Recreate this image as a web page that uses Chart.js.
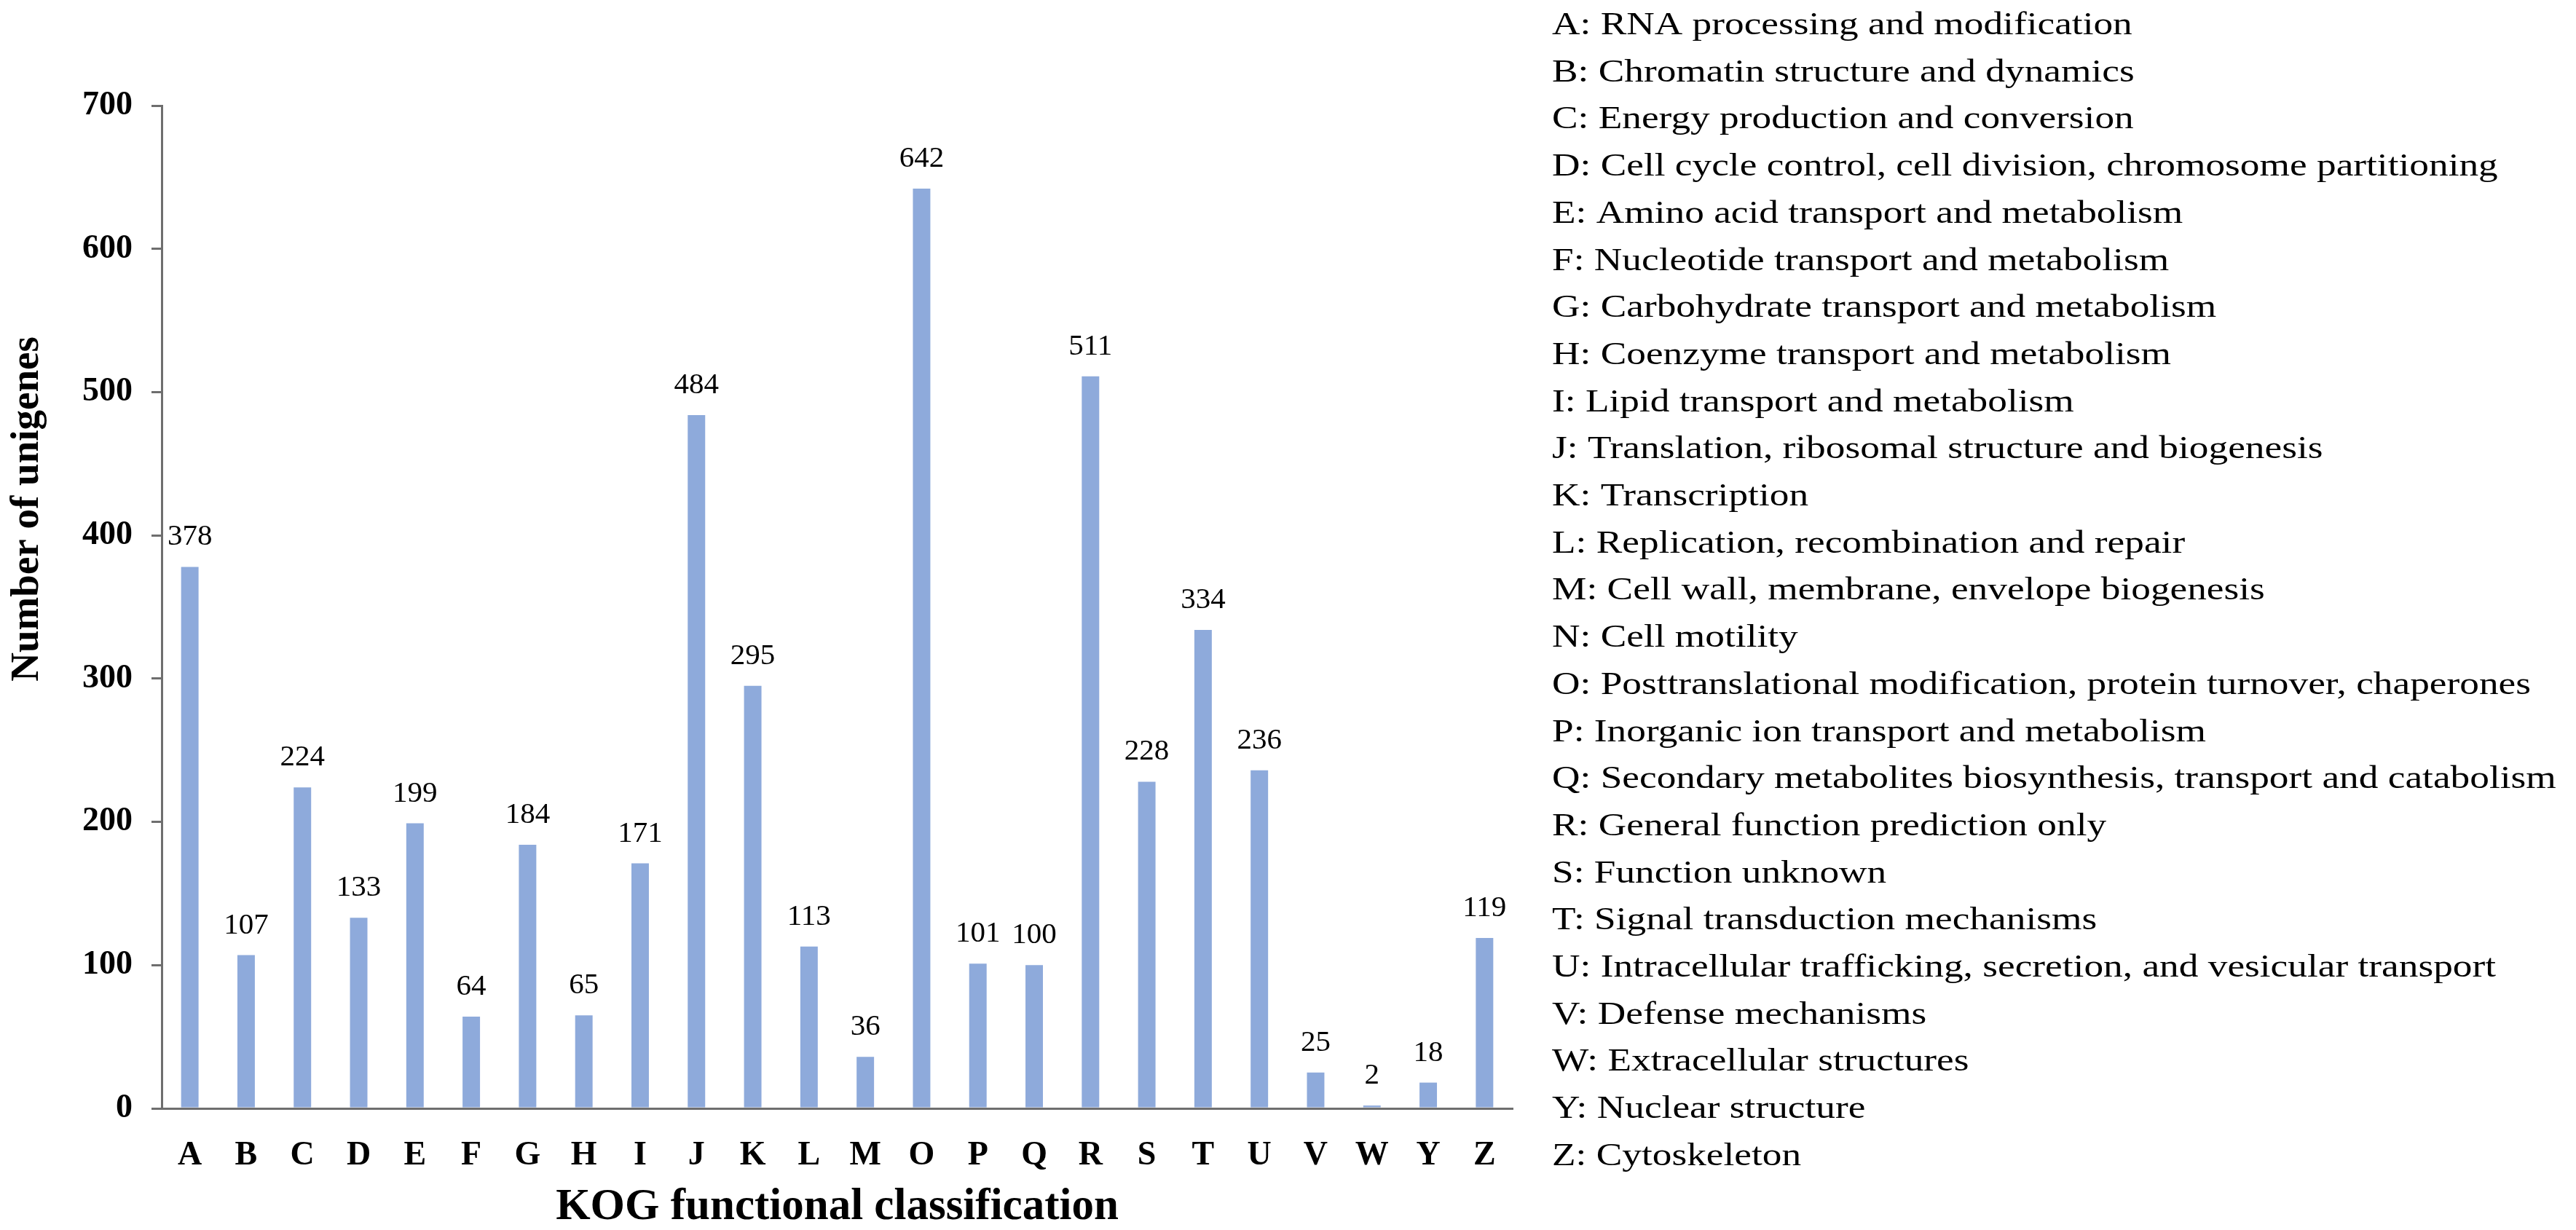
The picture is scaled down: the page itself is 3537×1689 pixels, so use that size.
<!DOCTYPE html>
<html>
<head>
<meta charset="utf-8">
<script src="https://cdn.jsdelivr.net/npm/chart.js@4.4.1/dist/chart.umd.min.js"></script>
<style>
  html, body { margin: 0; padding: 0; background: #fff; }
  canvas { display: block; }
</style>
</head>
<body>
<canvas id="chart_0" width="3537" height="1689"></canvas>
<script>
var categories = ['A','B','C','D','E','F','G','H','I','J','K','L','M','O','P','Q','R','S','T','U','V','W','Y','Z'];
var unigenes = [378,107,224,133,199,64,184,65,171,484,295,113,36,642,101,100,511,228,334,236,25,2,18,119];
var yTicks = [0,100,200,300,400,500,600,700];
var legendLines = [
  'A: RNA processing and modification',
  'B: Chromatin structure and dynamics',
  'C: Energy production and conversion',
  'D: Cell cycle control, cell division, chromosome partitioning',
  'E: Amino acid transport and metabolism',
  'F: Nucleotide transport and metabolism',
  'G: Carbohydrate transport and metabolism',
  'H: Coenzyme transport and metabolism',
  'I: Lipid transport and metabolism',
  'J: Translation, ribosomal structure and biogenesis',
  'K: Transcription',
  'L: Replication, recombination and repair',
  'M: Cell wall, membrane, envelope biogenesis',
  'N: Cell motility',
  'O: Posttranslational modification, protein turnover, chaperones',
  'P: Inorganic ion transport and metabolism',
  'Q: Secondary metabolites biosynthesis, transport and catabolism',
  'R: General function prediction only',
  'S: Function unknown',
  'T: Signal transduction mechanisms',
  'U: Intracellular trafficking, secretion, and vesicular transport',
  'V: Defense mechanisms',
  'W: Extracellular structures',
  'Y: Nuclear structure',
  'Z: Cytoskeleton'
];

var serif = '"Liberation Serif", "Times New Roman", serif';
var axisGrey = '#6e6e6e';

// numbers above each bar
var valueLabels = {
  id: 'valueLabels',
  afterDatasetsDraw: function(chart) {
    var ctx = chart.ctx;
    var meta = chart.getDatasetMeta(0);
    ctx.save();
    ctx.font = '41px ' + serif;
    ctx.fillStyle = '#000';
    ctx.textAlign = 'center';
    ctx.textBaseline = 'alphabetic';
    meta.data.forEach(function(bar, i) {
      ctx.fillText(String(unigenes[i]), bar.x, bar.y - 30);
    });
    ctx.restore();
  }
};

// y title (sits higher than the plot centre) and the letter key on the right
var extras = {
  id: 'extras',
  afterDraw: function(chart) {
    var ctx = chart.ctx;
    ctx.save();
    ctx.fillStyle = '#000';
    ctx.translate(52, 699);
    ctx.rotate(-Math.PI / 2);
    ctx.font = 'bold 55px ' + serif;
    ctx.textAlign = 'center';
    ctx.textBaseline = 'alphabetic';
    ctx.fillText('Number of unigenes', 0, 0);
    ctx.restore();

    // key text is a bit wider than plain Times in the original
    ctx.save();
    ctx.fillStyle = '#000';
    ctx.font = '45px ' + serif;
    ctx.textAlign = 'left';
    ctx.textBaseline = 'alphabetic';
    ctx.translate(2131, 0);
    ctx.scale(1.185, 1);
    for (var i = 0; i < legendLines.length; i++) {
      ctx.fillText(legendLines[i], 0, 47 + i * 64.7);
    }
    ctx.restore();
  }
};

var data = {
  labels: categories,
  datasets: [{
    label: 'Number of unigenes',
    data: unigenes,
    backgroundColor: '#8eaadb',
    borderWidth: 0,
    categoryPercentage: 1.0,
    barPercentage: 0.31
  }]
};

var config = {
  type: 'bar',
  data: data,
  options: {
    responsive: false,
    animation: false,
    devicePixelRatio: 1,
    layout: { padding: { left: 0, right: 1460, top: 145, bottom: 0 } },
    plugins: {
      legend: { display: false },
      tooltip: { enabled: false },
      title: { display: false }
    },
    scales: {
      x: {
        offset: true,
        grid: { display: false },
        border: { display: true, color: axisGrey, width: 3 },
        ticks: {
          color: '#000',
          padding: 30,
          font: { family: serif, size: 46, weight: 'bold' },
          maxRotation: 0,
          autoSkip: false
        },
        title: {
          display: true,
          text: 'KOG functional classification',
          color: '#000',
          font: { family: serif, size: 61, weight: 'bold', lineHeight: 1 },
          padding: { top: 0, bottom: 0 }
        },
        afterFit: function(scale) { scale.height = 167; }
      },
      y: {
        min: 0,
        max: 700,
        afterBuildTicks: function(scale) {
          scale.ticks = yTicks.map(function(v) { return { value: v }; });
        },
        grid: {
          drawOnChartArea: false,
          drawTicks: true,
          tickLength: 14,
          color: axisGrey,
          lineWidth: 3
        },
        border: { display: true, color: axisGrey, width: 3 },
        ticks: {
          color: '#000',
          padding: 26,
          font: { family: serif, size: 46, weight: 'bold' }
        },
        afterFit: function(scale) { scale.width = 222; }
      }
    }
  },
  plugins: [valueLabels, extras]
};

var myChart = new Chart(document.getElementById('chart_0'), config);
</script>
</body>
</html>
